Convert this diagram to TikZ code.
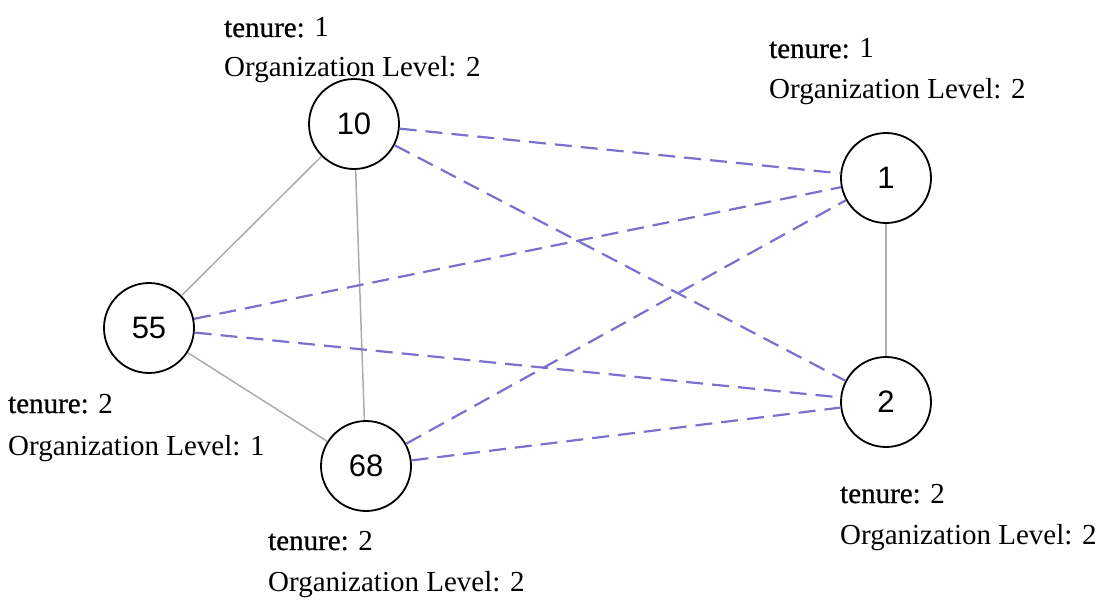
\documentclass[tikz,border=0pt]{standalone}
\usepackage{fontspec}
\setmainfont{Liberation Serif}
\newfontfamily\numfont{Liberation Sans}
\newfontfamily\keyfont[FakeBold=0.7]{Liberation Serif}
\definecolor{dashblue}{RGB}{122,112,206}
\definecolor{solidgray}{RGB}{172,172,172}
\begin{document}
\begin{tikzpicture}[x=1pt,y=-1pt,
  vnode/.style={circle,draw=black,line width=1.8pt,fill=white,minimum size=90pt,inner sep=0pt,font=\numfont\fontsize{31}{34}\selectfont},
  info/.style={anchor=base west,inner sep=0pt,font=\fontsize{29}{34}\selectfont},
  strong/.style={draw=solidgray,line width=1.5pt},
  weak/.style={draw=dashblue,line width=2.2pt,dash pattern=on 17pt off 9pt}]
\useasboundingbox (0,0) rectangle (1116,610);
\node[vnode] (n10) at (354,124) {10};
\node[vnode] (n1) at (886,178) {1};
\node[vnode] (n55) at (149,328) {55};
\node[vnode] (n68) at (366,466) {68};
\node[vnode] (n2) at (886,402) {2};
\draw[strong] (n10) -- (n55);
\draw[strong] (n10) -- (n68);
\draw[strong] (n55) -- (n68);
\draw[strong] (n1) -- (n2);
\draw[weak] (n10) -- (n1);
\draw[weak] (n10) -- (n2);
\draw[weak] (n55) -- (n1);
\draw[weak] (n55) -- (n2);
\draw[weak] (n68) -- (n1);
\draw[weak] (n68) -- (n2);
\node[info] (t10) at (224,37) {{\keyfont tenure:} 1};
\node[info] (o10) at (224,77) {Organization Level: 2};
\node[info] (t1) at (769,58) {{\keyfont tenure:} 1};
\node[info] (o1) at (769,98) {Organization Level: 2};
\node[info] (t55) at (8,413) {{\keyfont tenure:} 2};
\node[info] (o55) at (8,455) {Organization Level: 1};
\node[info] (t68) at (268,550) {{\keyfont tenure:} 2};
\node[info] (o68) at (268,591) {Organization Level: 2};
\node[info] (t2) at (840,503) {{\keyfont tenure:} 2};
\node[info] (o2) at (840,544) {Organization Level: 2};
\end{tikzpicture}
\end{document}
